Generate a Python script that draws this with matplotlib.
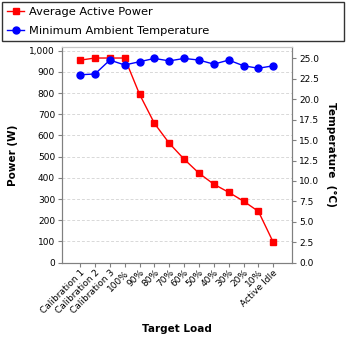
import matplotlib
matplotlib.use("Agg")
import matplotlib.pyplot as plt
from matplotlib.lines import Line2D

categories = ["Calibration 1", "Calibration 2", "Calibration 3", "100%", "90%", "80%",
              "70%", "60%", "50%", "40%", "30%", "20%", "10%", "Active Idle"]
power = [955, 965, 965, 965, 794, 657, 563, 488, 422, 370, 332, 290, 242, 96]
temperature = [23.0, 23.1, 24.8, 24.2, 24.6, 25.0, 24.7, 25.0, 24.8, 24.3, 24.8, 24.1, 23.8, 24.1]

power_ticks = list(range(0, 1001, 100))
temp_ticks = [i * 2.5 for i in range(11)]

plt.rcParams['font.family'] = ['DejaVu Sans']
fig = plt.figure(figsize=(3.48, 3.48), dpi=100)
ax = fig.add_axes([62 / 348, 1 - 262.7 / 348, 230 / 348, 215.7 / 348])
ax2 = ax.twinx()

x = list(range(len(categories)))
ax.plot(x, power, color='#ff0000', lw=1, marker='s', markersize=5, zorder=3)
ax2.plot(x, temperature, color='#0000ff', lw=1, marker='o', markersize=5, zorder=3)

ax.set_xlim(-1.22, len(categories) - 1 + 1.26)
ax.set_ylim(0, 1017)
ax2.set_ylim(0, 26.4)

ax.set_yticks(power_ticks)
ax.set_yticklabels([f"{v:,}" for v in power_ticks])
ax2.set_yticks(temp_ticks)
ax2.set_yticklabels([f"{v:.1f}" for v in temp_ticks])
ax.set_xticks(x)
ax.set_xticklabels(categories, rotation=45, ha='right', rotation_mode='anchor')

ax.yaxis.grid(True, color='#d8d8d8', linestyle=(0, (3, 2)), lw=0.7)
ax.set_axisbelow(True)

for a in (ax, ax2):
    a.tick_params(labelsize=6.5, length=3, width=0.8, color='#808080', pad=2)
    for side in ('left', 'right', 'bottom', 'top'):
        a.spines[side].set_color('#808080')
    a.spines['top'].set_color('#c8c8c8')
ax.tick_params(axis='x', pad=1)

ax.set_ylabel("Power (W)", fontsize=7.5, fontweight='bold', labelpad=8)
ax.set_xlabel("Target Load", fontsize=7.5, fontweight='bold', labelpad=6)
ax2.set_ylabel("Temperature  (°C)", fontsize=7.5, fontweight='bold', rotation=-90, labelpad=12)

handles = [
    Line2D([], [], color='#ff0000', lw=1, marker='s', markersize=5),
    Line2D([], [], color='#0000ff', lw=1, marker='o', markersize=5),
]
leg = fig.legend(handles, ["Average Active Power", "Minimum Ambient Temperature"],
                 loc='upper left', bbox_to_anchor=(2 / 348, 1 - 42 / 348, 342 / 348, 40 / 348),
                 mode='expand', fontsize=8.2, frameon=True, fancybox=False,
                 handlelength=1.5, handletextpad=0.4, borderpad=0.45, labelspacing=0.75,
                 borderaxespad=0)
leg.get_frame().set_edgecolor('black')
leg.get_frame().set_linewidth(1)

fig.savefig("out.png", dpi=100)
